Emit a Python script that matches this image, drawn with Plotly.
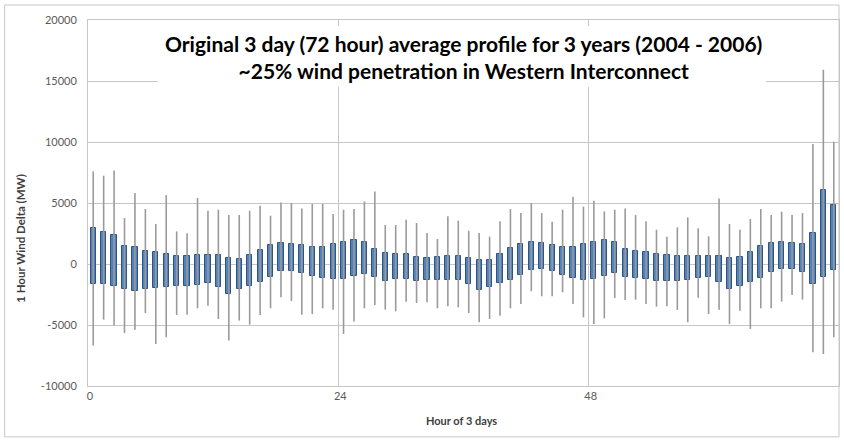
import plotly.graph_objects as go

hours = list(range(72))
wmax = [7590, 7235, 7670, 3767, 5815, 4505, 3276, 5651, 2675, 2512, 5405, 4368,
        4450, 4013, 4013, 4368, 4778, 3959, 5051, 4996, 4559, 4914, 4914, 4100,
        4450, 4505, 5133, 5951, 3194, 3194, 3631, 3358, 2539, 2048, 3904, 3549,
        2730, 2539, 2239, 3494, 4505, 4177, 4996, 4177, 3467, 4450, 5515, 4700,
        5187, 4314, 4450, 4559, 4013, 3494, 2812, 2239, 3003, 3822, 2921, 2266,
        5378, 3276, 2812, 3686, 4505, 4013, 4286, 4013, 4177, 9828, 15916, 10019]
q3 = [2921, 2648, 2400, 1447, 1365, 1092, 1010, 819, 683, 628, 710, 737,
      737, 519, 410, 737, 1174, 1556, 1747, 1611, 1583, 1392, 1392, 1640,
      1829, 1993, 1775, 1229, 901, 819, 819, 601, 491, 546, 628, 628,
      491, 328, 355, 792, 1283, 1638, 1829, 1693, 1556, 1365, 1365, 1640,
      1829, 1966, 1775, 1229, 1037, 955, 819, 737, 628, 683, 683, 628,
      628, 464, 546, 1010, 1447, 1720, 1829, 1693, 1638, 2512, 6088, 4859]
q1 = [-1638, -1638, -1775, -2048, -2240, -2048, -1993, -1884, -1829, -1775, -1720, -1583,
      -1856, -2457, -2048, -1829, -1502, -1065, -573, -573, -737, -1010, -1174, -1230,
      -1229, -956, -819, -1092, -1365, -1229, -1229, -1365, -1310, -1283, -1283, -1283,
      -1638, -2102, -1856, -1583, -1338, -901, -491, -410, -601, -874, -1147, -1285,
      -1229, -1010, -764, -1037, -1147, -1229, -1365, -1365, -1365, -1310, -1147, -1092,
      -1502, -2048, -1829, -1502, -1174, -683, -410, -410, -683, -1638, -1092, -464]
wmin = [-6690, -4560, -5050, -5650, -5380, -4013, -6552, -6006, -4177, -4150, -3631, -3412,
        -4505, -6279, -4641, -4969, -4177, -3631, -2730, -3030, -4150, -4095, -3631, -3740,
        -5733, -4723, -3631, -3358, -3740, -3877, -3085, -3194, -3140, -3631, -3467, -3549,
        -4013, -4778, -4505, -4232, -3631, -3276, -2239, -2648, -2648, -2321, -3276, -4370,
        -4914, -4450, -2785, -2948, -2921, -3276, -3494, -3467, -3767, -4778, -2757, -4095,
        -3740, -4914, -3822, -5324, -3631, -3631, -3085, -2539, -2921, -7235, -7371, -6006]

x_tick_vals = [-0.5, 23.5, 47.5]
x_tick_text = ["0", "24", "48"]
y_tick_vals = [-10000, -5000, 0, 5000, 10000, 15000, 20000]
y_tick_text = ["-10000", "-5000", "0", "5000", "10000", "15000", "20000"]

title_text = ("Original 3 day (72 hour) average profile for 3 years (2004 - 2006)<br>"
              "~25% wind penetration in Western Interconnect")

# whisker (high-low) lines
wx, wy = [], []
for h, lo, hi in zip(hours, wmin, wmax):
    wx += [h, h, None]
    wy += [lo, hi, None]

font_family = "Lato, 'Open Sans', sans-serif"
grid_col = "#C6C6C6"

fig = go.Figure()
fig.add_trace(go.Scatter(x=wx, y=wy, mode="lines",
                         line=dict(color="#9A9A9A", width=1.6),
                         hoverinfo="skip", showlegend=False))
fig.add_trace(go.Bar(x=hours, y=[a - b for a, b in zip(q3, q1)], base=q1,
                     width=0.5,
                     marker=dict(color="#4F81BD", line=dict(color="#2E5486", width=1)),
                     showlegend=False))

fig.update_layout(
    width=844, height=442,
    margin=dict(l=88, r=5, t=20, b=56),
    paper_bgcolor="white", plot_bgcolor="white",
    font=dict(family=font_family, color="#595959", size=11),
    bargap=0,
    xaxis=dict(range=[-0.5, 71.5], tickmode="array", tickvals=x_tick_vals,
               ticktext=x_tick_text, showgrid=True, gridcolor=grid_col, gridwidth=1,
               showline=True, linecolor=grid_col, linewidth=1, mirror=True,
               zeroline=False, ticks="", ticklabelshift=2,
               tickfont=dict(size=11, color="#595959")),
    yaxis=dict(range=[-10000, 20000], tickmode="array", tickvals=y_tick_vals,
               ticktext=y_tick_text,
               showgrid=True, gridcolor=grid_col, gridwidth=1,
               showline=True, linecolor=grid_col, linewidth=1, mirror=True,
               zeroline=False, ticks="", ticklabelstandoff=8,
               tickfont=dict(size=11, color="#595959")),
    shapes=[
        dict(type="rect", xref="paper", yref="paper", x0=0.0928, x1=0.9028,
             y0=0.817, y1=0.9836, fillcolor="white", line=dict(width=0), layer="above"),
        dict(type="rect", xref="paper", yref="paper", x0=-0.111, x1=1.0,
             y0=-0.139, y1=1.041, fillcolor="rgba(0,0,0,0)",
             line=dict(color="#C8C8C8", width=1), layer="below"),
    ],
    annotations=[
        dict(text="<b>" + title_text.replace("<br>", "</b><br><b>") + "</b>",
             xref="paper", yref="paper", x=0.5, y=0.898, xanchor="center", yanchor="middle",
             showarrow=False, font=dict(size=21, color="#000000", family=font_family)),
        dict(text="<b>1 Hour Wind Delta (MW)</b>", xref="paper", yref="paper",
             x=-0.091, y=0.404, textangle=-90, showarrow=False,
             xanchor="center", yanchor="middle",
             font=dict(size=11.5, color="#404040", family=font_family)),
        dict(text="<b>Hour of 3 days</b>", xref="paper", yref="paper",
             x=0.497, y=-0.0956, showarrow=False, xanchor="center", yanchor="middle",
             font=dict(size=11, color="#404040", family=font_family)),
    ],
)

fig.write_html("out.html",
               config={"displayModeBar": False},
               post_script="document.body.style.margin='0';document.body.style.overflow='hidden';")
